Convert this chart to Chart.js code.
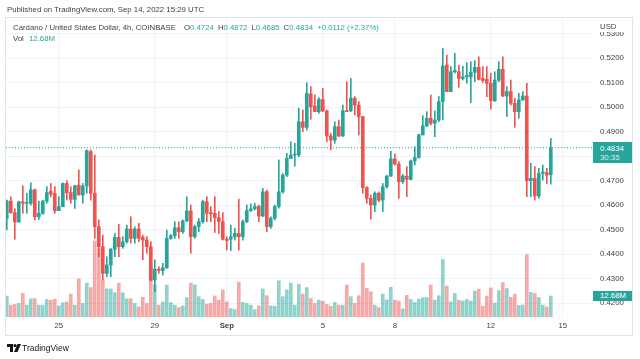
<!DOCTYPE html>
<html>
<head>
<meta charset="utf-8">
<script src="https://cdn.jsdelivr.net/npm/chart.js@4.4.0/dist/chart.umd.min.js"></script>
<style>
  body { margin: 0; background: #fff; font-family: "Liberation Sans", Arial, sans-serif; }
  #wrap { position: relative; width: 640px; height: 359px; overflow: hidden; }
  #frame { position: absolute; left: 5px; top: 17px; width: 628px; height: 319px; box-sizing: border-box; border: 1px solid #e0e3eb; }
  canvas { position: absolute; left: 0; top: 0; }
  .t { position: absolute; white-space: nowrap; font-size: 7.8px; line-height: 10px; color: #3b3e47; }
  .g { color: #26a69a; }
  .sp { margin-left: 4px; }
  .tag { position: absolute; left: 593px; width: 39px; background: #26a69a; color: #fff; font-size: 7.8px; box-sizing: border-box; padding-left: 7px; }
  #usd { position: absolute; left: 594px; top: 18px; width: 38px; height: 14px; background: #fff; font-size: 7.8px; color: #3b3e47; line-height: 18px; padding-left: 6px; box-sizing: border-box; }
</style>
</head>
<body>
<div id="wrap">
  <div id="frame"></div>
  <canvas id="chart" width="640" height="359"></canvas>
  <div class="t" style="left:7px; top:5px;">Published on TradingView.com, Sep 14, 2022 15:29 UTC</div>
  <div class="t" id="legend" style="left:13px; top:23px;"></div>
  <div class="t" id="vol" style="left:13px; top:34px;"></div>
  <div id="usd">USD</div>
  <div class="tag" id="priceTag" style="height:21px; line-height:9px; padding-top:2px;"></div>
  <div class="tag" id="volTag" style="height:10px; line-height:10px;"></div>
  <svg style="position:absolute; left:7px; top:344px;" width="14" height="9" viewBox="0 0 14 9">
    <path d="M0 0h6v8H3V3H0z" fill="#131722"/>
    <circle cx="8" cy="1.6" r="1.6" fill="#131722"/>
    <path d="M10.5 0H14L10.5 8H7z" fill="#131722"/>
  </svg>
  <div class="t" style="left:22px; top:343px; font-size:8.5px; color:#131722;">TradingView</div>
</div>
<script>
// Cardano / USD, 4h candles, Aug 22 20:00 -> Sep 14 12:00 UTC
const open = [
  0.4545,0.4616,0.4569,0.4531,0.4613,0.4607,0.4607,0.4662,0.4552,0.4566,
  0.4616,0.4656,0.4647,0.4577,0.4593,0.4688,0.4651,0.4623,0.4681,0.4641,
  0.4678,0.4818,0.4648,0.4512,0.4430,0.4321,0.4355,0.4419,0.4468,0.4430,
  0.4450,0.4502,0.4464,0.4502,0.4468,0.4457,0.4430,0.4294,0.4338,0.4333,
  0.4344,0.4464,0.4475,0.4507,0.4491,0.4535,0.4576,0.4471,0.4512,0.4532,
  0.4614,0.4569,0.4566,0.4548,0.4532,0.4460,0.4460,0.4470,0.4484,0.4471,
  0.4532,0.4577,0.4584,0.4594,0.4555,0.4654,0.4512,0.4546,0.4594,0.4654,
  0.4722,0.4790,0.4804,0.4804,0.4940,0.4917,0.5053,0.5004,0.4981,0.5031,
  0.4984,0.4882,0.4865,0.4920,0.4882,0.4985,0.4985,0.5036,0.5008,0.4961,
  0.4671,0.4627,0.4600,0.4648,0.4620,0.4675,0.4718,0.4788,0.4767,0.4695,
  0.4718,0.4705,0.4780,0.4794,0.4886,0.4923,0.4954,0.4934,0.4947,0.5022,
  0.5171,0.5063,0.5144,0.5144,0.5117,0.5123,0.5123,0.5142,0.5162,0.5117,
  0.5113,0.5097,0.5026,0.5110,0.5154,0.5045,0.5063,0.5015,0.4981,0.5029,
  0.5045,0.4699,0.4709,0.4637,0.4729,0.4732,0.4724
];
const high = [
  0.4620,0.4634,0.4585,0.4616,0.4678,0.4648,0.4691,0.4665,0.4616,0.4620,
  0.4675,0.4688,0.4675,0.4634,0.4690,0.4699,0.4675,0.4681,0.4743,0.4688,
  0.4825,0.4825,0.4804,0.4539,0.4477,0.4389,0.4423,0.4484,0.4521,0.4471,
  0.4518,0.4552,0.4511,0.4525,0.4477,0.4471,0.4450,0.4376,0.4348,0.4362,
  0.4498,0.4480,0.4532,0.4532,0.4539,0.4634,0.4600,0.4518,0.4545,0.4620,
  0.4634,0.4593,0.4634,0.4573,0.4569,0.4471,0.4518,0.4505,0.4624,0.4539,
  0.4600,0.4604,0.4607,0.4600,0.4668,0.4661,0.4552,0.4600,0.4784,0.4729,
  0.4811,0.4858,0.4852,0.4995,0.4988,0.5099,0.5083,0.5049,0.5039,0.5076,
  0.4988,0.4893,0.4940,0.4947,0.5008,0.5103,0.5117,0.5042,0.5022,0.4961,
  0.4675,0.4641,0.4654,0.4654,0.4688,0.4722,0.4820,0.4808,0.4777,0.4725,
  0.4757,0.4784,0.4838,0.4890,0.4965,0.4981,0.5049,0.4984,0.5043,0.5239,
  0.5212,0.5165,0.5219,0.5171,0.5167,0.5181,0.5185,0.5189,0.5205,0.5165,
  0.5165,0.5138,0.5144,0.5185,0.5205,0.5083,0.5110,0.5035,0.5056,0.5063,
  0.5097,0.4770,0.4757,0.4750,0.4763,0.4750,0.4872
];
const low = [
  0.4498,0.4566,0.4460,0.4529,0.4566,0.4566,0.4600,0.4539,0.4541,0.4562,
  0.4607,0.4634,0.4566,0.4577,0.4593,0.4620,0.4607,0.4586,0.4641,0.4607,
  0.4648,0.4620,0.4464,0.4389,0.4294,0.4307,0.4307,0.4389,0.4389,0.4423,
  0.4444,0.4444,0.4444,0.4450,0.4376,0.4403,0.4290,0.4246,0.4321,0.4314,
  0.4341,0.4460,0.4464,0.4464,0.4484,0.4532,0.4403,0.4464,0.4491,0.4525,
  0.4532,0.4532,0.4488,0.4484,0.4457,0.4416,0.4414,0.4457,0.4416,0.4457,
  0.4528,0.4573,0.4580,0.4532,0.4552,0.4491,0.4505,0.4539,0.4587,0.4648,
  0.4716,0.4790,0.4759,0.4797,0.4899,0.4906,0.4950,0.4981,0.4974,0.4981,
  0.4858,0.4825,0.4852,0.4879,0.4879,0.4981,0.4981,0.4967,0.4886,0.4648,
  0.4607,0.4542,0.4573,0.4613,0.4573,0.4668,0.4716,0.4763,0.4627,0.4688,
  0.4634,0.4702,0.4763,0.4791,0.4886,0.4920,0.4927,0.4879,0.4940,0.4947,
  0.5063,0.5063,0.5138,0.5080,0.5110,0.5097,0.5018,0.5103,0.5110,0.5100,
  0.5042,0.4991,0.5022,0.5103,0.5042,0.4961,0.5008,0.4917,0.4954,0.5026,
  0.4634,0.4634,0.4620,0.4627,0.4702,0.4688,0.4685
];
const close = [
  0.4616,0.4569,0.4531,0.4613,0.4607,0.4611,0.4662,0.4552,0.4566,0.4616,
  0.4651,0.4644,0.4577,0.4593,0.4688,0.4650,0.4623,0.4679,0.4641,0.4678,
  0.4822,0.4648,0.4512,0.4430,0.4321,0.4355,0.4419,0.4468,0.4430,0.4450,
  0.4502,0.4464,0.4502,0.4464,0.4457,0.4430,0.4294,0.4338,0.4333,0.4344,
  0.4464,0.4475,0.4507,0.4491,0.4535,0.4576,0.4471,0.4512,0.4532,0.4614,
  0.4566,0.4564,0.4548,0.4532,0.4460,0.4455,0.4470,0.4484,0.4471,0.4532,
  0.4577,0.4584,0.4594,0.4555,0.4654,0.4512,0.4546,0.4594,0.4654,0.4722,
  0.4790,0.4804,0.4806,0.4940,0.4917,0.5056,0.5001,0.4981,0.5031,0.4984,
  0.4882,0.4865,0.4920,0.4882,0.4985,0.4981,0.5036,0.5008,0.4961,0.4671,
  0.4627,0.4600,0.4648,0.4620,0.4675,0.4718,0.4788,0.4767,0.4695,0.4718,
  0.4705,0.4780,0.4794,0.4886,0.4923,0.4954,0.4934,0.4947,0.5022,0.5167,
  0.5063,0.5144,0.5149,0.5117,0.5123,0.5129,0.5142,0.5162,0.5113,0.5108,
  0.5097,0.5026,0.5110,0.5154,0.5045,0.5063,0.5015,0.4981,0.5029,0.5045,
  0.4699,0.4709,0.4637,0.4729,0.4735,0.4722,0.4834
];
// volume in millions
const volume = [
  12.7,7.2,7.6,8.2,14.3,7.2,11.0,11.2,7.2,7.2,
  10.6,10.2,10.8,6.7,8.6,9.2,13.9,7.2,23.1,8.2,
  20.5,17.8,46.0,41.3,22.5,17.0,17.0,14.7,20.5,14.7,
  11.0,11.0,8.2,6.1,11.9,8.2,30.7,19.4,7.2,9.2,
  19.4,8.8,7.2,5.7,6.7,11.7,20.5,19.4,12.3,10.6,
  7.8,8.2,12.7,10.2,16.4,9.2,5.1,4.5,21.1,8.8,
  8.2,7.2,4.5,6.7,17.0,12.9,6.7,6.5,21.9,12.3,
  16.4,20.5,7.2,19.8,13.9,17.8,11.2,8.2,10.2,9.6,
  7.6,6.5,8.8,7.2,7.2,19.4,12.3,8.2,12.9,32.7,
  17.4,15.3,7.2,5.7,13.9,10.4,18.0,10.2,9.6,4.9,
  13.1,10.6,8.8,10.8,11.7,11.9,19.4,10.2,12.9,34.8,
  18.8,9.2,14.3,10.2,9.6,10.6,9.6,15.7,16.8,6.5,
  12.7,17.6,8.4,16.0,20.9,17.2,11.9,13.9,7.0,7.2,
  37.8,14.9,14.3,11.7,7.2,6.1,12.68
];

const dateTickPos = [13, 37, 55, 79, 97, 121, 139];
const dateTickLabels = ['25', '29', 'Sep', '5', '8', '12', '15'];
const priceTicks = [0.42, 0.43, 0.44, 0.45, 0.46, 0.47, 0.48, 0.49, 0.50, 0.51, 0.52, 0.53];

const title = 'Cardano / United States Dollar, 4h, COINBASE';
const countdown = '30:35';

const FONT = '"Liberation Sans", Arial, sans-serif';
const UP = '#26a69a';
const DOWN = '#ef5350';
const X_MIN = -0.2, X_MAX = 146.55;

const idx = close.map((c, i) => i);
const isUp = close.map((c, i) => c >= open[i]);
const last = close.length - 1;

const chart = new Chart(document.getElementById('chart'), {
  type: 'bar',
  data: {
    datasets: [
      {
        label: 'Volume',
        yAxisID: 'v',
        data: idx.map(i => ({ x: i, y: volume[i] })),
        backgroundColor: isUp.map(u => u ? 'rgba(38,166,154,0.5)' : 'rgba(239,83,80,0.5)'),
        barThickness: 3,
        grouped: false,
        order: 3
      },
      {
        label: 'Wick',
        yAxisID: 'y',
        data: idx.map(i => ({ x: i, y: [low[i], high[i]] })),
        backgroundColor: isUp.map(u => u ? UP : DOWN),
        barThickness: 1,
        grouped: false,
        order: 1
      },
      {
        label: 'Body',
        yAxisID: 'y',
        data: idx.map(i => ({ x: i, y: [open[i], close[i]] })),
        backgroundColor: isUp.map(u => u ? UP : DOWN),
        barThickness: 3,
        minBarLength: 1,
        grouped: false,
        order: 0
      },
      {
        type: 'line',
        label: 'Last',
        yAxisID: 'y',
        data: [{ x: X_MIN, y: close[last] }, { x: X_MAX, y: close[last] }],
        borderColor: UP,
        borderWidth: 1,
        borderDash: [1, 2],
        pointRadius: 0,
        order: 2
      }
    ]
  },
  options: {
    responsive: false,
    animation: false,
    devicePixelRatio: 1,
    layout: { padding: { left: 6, top: 18, right: 7, bottom: 24 } },
    plugins: { legend: { display: false }, tooltip: { enabled: false } },
    scales: {
      x: {
        type: 'linear',
        min: X_MIN,
        max: X_MAX,
        offset: false,
        afterBuildTicks: s => { s.ticks = dateTickPos.map(v => ({ value: v })); },
        afterFit: s => { s.height = 18; },
        grid: { color: '#f0f3fa', drawTicks: false, offset: false },
        border: { display: false },
        ticks: {
          autoSkip: false,
          maxRotation: 0,
          padding: 4,
          color: '#3b3e47',
          font: c => ({ size: 7.8, family: FONT, weight: (c.tick && c.tick.value === 55) ? 'bold' : 'normal' }),
          callback: v => dateTickLabels[dateTickPos.indexOf(v)]
        }
      },
      y: {
        type: 'linear',
        position: 'right',
        min: 0.41429,
        max: 0.53633,
        afterBuildTicks: s => { s.ticks = priceTicks.map(v => ({ value: v })); },
        afterFit: s => { s.width = 40; },
        grid: { color: '#f0f3fa', drawTicks: false },
        border: { display: false },
        ticks: {
          padding: 7,
          color: '#3b3e47',
          font: { size: 7.8, family: FONT },
          callback: v => v.toFixed(4)
        }
      },
      v: { type: 'linear', display: false, min: 0, max: 181 }
    }
  }
});

// legend texts from the data
const chg = close[last] - close[last - 1];
const pct = chg / close[last - 1] * 100;
const sign = chg >= 0 ? '+' : '';
document.getElementById('legend').innerHTML =
  title +
  '<span style="margin-left:8px">O<span class="g">' + open[last].toFixed(4) + '</span></span>' +
  '<span class="sp">H<span class="g">' + high[last].toFixed(4) + '</span></span>' +
  '<span class="sp">L<span class="g">' + low[last].toFixed(4) + '</span></span>' +
  '<span class="sp">C<span class="g">' + close[last].toFixed(4) + '</span></span>' +
  '<span class="sp g">' + sign + chg.toFixed(4) + ' (' + sign + pct.toFixed(2) + '%)</span>';
document.getElementById('vol').innerHTML = 'Vol <span class="g" style="margin-left:3px">' + volume[last].toFixed(2) + 'M</span>';

// axis tags placed through the scales
const priceTag = document.getElementById('priceTag');
priceTag.innerHTML = close[last].toFixed(4) + '<br><span style="opacity:0.8">' + countdown + '</span>';
priceTag.style.top = (chart.scales.y.getPixelForValue(close[last]) - 6) + 'px';
const volTag = document.getElementById('volTag');
volTag.textContent = volume[last].toFixed(2) + 'M';
volTag.style.top = (chart.scales.v.getPixelForValue(volume[last]) - 5) + 'px';
</script>
</body>
</html>
